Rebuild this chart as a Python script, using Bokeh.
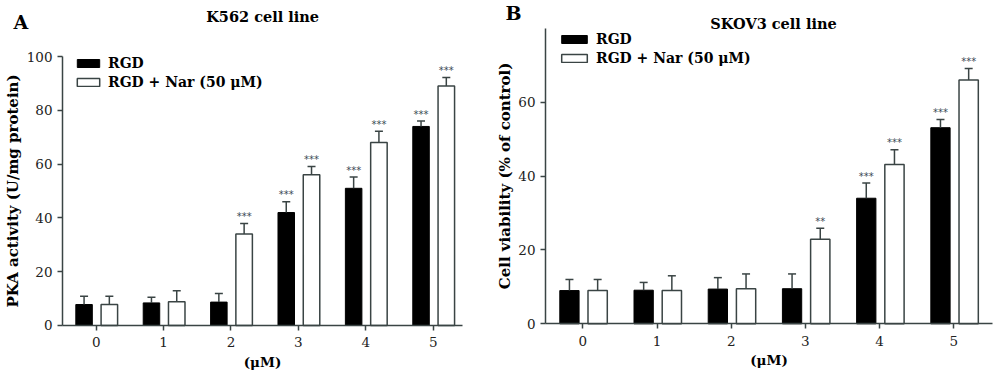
from bokeh.plotting import figure
from bokeh.layouts import row
from bokeh.models import (ColumnDataSource, Range1d, FixedTicker, Whisker, TeeHead,
                          Label, Legend, LegendItem)
from bokeh.core.properties import value
from bokeh.embed import file_html
from bokeh.resources import INLINE

# ---------------- data ----------------
categories = ["0", "1", "2", "3", "4", "5"]

a_rgd = [7.8, 8.4, 8.7, 42.0, 51.0, 74.0]
a_rgd_sd = [3.1, 2.1, 3.2, 4.0, 4.2, 2.0]
a_nar = [7.8, 8.8, 34.0, 56.0, 68.0, 89.0]
a_nar_sd = [3.1, 4.1, 3.9, 3.1, 4.2, 3.2]
a_rgd_sig = ["", "", "", "***", "***", "***"]
a_nar_sig = ["", "", "***", "***", "***", "***"]

b_rgd = [9.0, 9.1, 9.4, 9.5, 34.0, 53.1]
b_rgd_sd = [3.0, 2.1, 3.1, 4.0, 4.1, 2.2]
b_nar = [9.0, 9.0, 9.5, 22.9, 43.1, 66.0]
b_nar_sd = [3.0, 4.0, 4.0, 3.0, 4.0, 3.1]
b_rgd_sig = ["", "", "", "", "***", "***"]
b_nar_sig = ["", "", "", "**", "***", "***"]

series_labels = ["RGD", "RGD + Nar (50 \u03bcM)"]
titles = ["K562 cell line", "SKOV3 cell line"]
panel_letters = ["A", "B"]
y_labels = ["PKA activity (U/mg protein)", "Cell viability (% of control)"]
x_label = "(\u03bcM)"

AX = "#3a4444"
STAR = "#3b4a55"
SERIF = "DejaVu Serif"


def panel(width, height, xr, yr, xbounds, ybounds, yticks,
          v1, s1, g1, v2, s2, g2, bw, off1, off2, legend_loc, glyph_w, ylab_standoff,
          title, title_xy, letter, letter_xy, ylabel):
    p = figure(width=width, height=height, output_backend="svg", toolbar_location=None,
               x_range=Range1d(*xr), y_range=Range1d(*yr),
               min_border_left=0, min_border_right=0,
               min_border_top=0, min_border_bottom=0)
    p.outline_line_color = None
    p.grid.visible = False
    p.background_fill_color = "white"
    p.border_fill_color = "white"

    xs = list(range(len(categories)))
    src1 = ColumnDataSource(dict(x=[x + off1 for x in xs], top=v1,
                                 up=[a + b for a, b in zip(v1, s1)], sig=g1))
    src2 = ColumnDataSource(dict(x=[x + off2 for x in xs], top=v2,
                                 up=[a + b for a, b in zip(v2, s2)], sig=g2))

    for src in (src1, src2):
        w = Whisker(source=src, base="x", upper="up", lower="top", dimension="height",
                    line_color=AX, line_width=1.5,
                    upper_head=TeeHead(size=8, line_color=AX, line_width=1.5),
                    lower_head=None, level="annotation")
        p.add_layout(w)

    r1 = p.vbar(x="x", top="top", width=bw, bottom=0, source=src1,
                fill_color="black", line_color="black", line_width=1)
    r2 = p.vbar(x="x", top="top", width=bw, bottom=0, source=src2,
                fill_color="white", line_color=AX, line_width=1.5)

    for src in (src1, src2):
        p.text(x="x", y="up", text="sig", source=src, text_align="center",
               text_baseline="middle", y_offset=-7, text_color=STAR,
               text_font=value("DejaVu Sans"), text_font_size="10px")

    leg = Legend(items=[LegendItem(label=series_labels[0], renderers=[r1]),
                        LegendItem(label=series_labels[1], renderers=[r2])],
                 location=legend_loc, orientation="vertical")
    leg.background_fill_alpha = 0
    leg.border_line_color = None
    leg.padding = 0
    leg.margin = 0
    leg.spacing = 1
    leg.glyph_width = glyph_w
    leg.glyph_height = 10
    leg.label_height = 18
    leg.label_standoff = 6
    leg.label_text_font = SERIF
    leg.label_text_font_style = "bold"
    leg.label_text_font_size = "14px"
    leg.label_text_color = "black"
    leg.label_text_baseline = "middle"
    p.add_layout(leg, "center")

    p.add_layout(Label(x=title_xy[0], y=title_xy[1], text=title, text_align="center",
                       text_baseline="middle", text_font=SERIF, text_font_style="bold",
                       text_font_size="14.5px", text_color="black"))
    p.add_layout(Label(x=letter_xy[0], y=letter_xy[1], text=letter, text_align="left",
                       text_baseline="middle", text_font=SERIF, text_font_style="bold",
                       text_font_size="19px", text_color="black"))

    for ax in (p.xaxis, p.yaxis):
        ax.axis_line_color = AX
        ax.axis_line_width = 1.5
        ax.major_tick_line_color = AX
        ax.major_tick_line_width = 1.5
        ax.major_tick_out = 5
        ax.major_tick_in = 0
        ax.minor_tick_line_color = None
        ax.major_label_text_font = SERIF
        ax.major_label_text_font_size = "13.5px"
        ax.major_label_text_color = "#222222"
        ax.axis_label_text_font = SERIF
        ax.axis_label_text_font_style = "bold"
        ax.axis_label_text_color = "black"

    p.xaxis.ticker = FixedTicker(ticks=xs)
    p.xaxis.major_label_overrides = {i: c for i, c in zip(xs, categories)}
    p.xaxis.axis_label = x_label
    p.xaxis.axis_label_text_font_size = "13.5px"
    p.xaxis.major_label_standoff = 7
    p.xaxis.axis_label_standoff = 3
    p.xaxis.bounds = xbounds
    p.xaxis.fixed_location = 0

    p.yaxis.ticker = FixedTicker(ticks=yticks)
    p.yaxis.bounds = ybounds
    p.yaxis.axis_label = ylabel
    p.yaxis.axis_label_text_font_size = "15px"
    p.yaxis.major_label_standoff = 5
    p.yaxis.axis_label_standoff = ylab_standoff
    p.yaxis.fixed_location = xbounds[0]
    return p


pa = panel(494, 376, (-1.42, 5.91), (-18.96, 120.82), (-0.5, 5.435), (0, 100),
           [0, 20, 40, 60, 80, 100],
           a_rgd, a_rgd_sd, a_rgd_sig, a_nar, a_nar_sd, a_nar_sig,
           0.245, -0.18, 0.195, (74, 285), 28, 2,
           titles[0], (2.47, 114.9), panel_letters[0], (-1.227, 113.0), y_labels[0])

pb = panel(506, 376, (-1.19, 5.629), (-14.27, 87.54), (-0.503, 5.52), (0, 80),
           [0, 20, 40, 60],
           b_rgd, b_rgd_sd, b_rgd_sig, b_nar, b_nar_sd, b_nar_sig,
           0.26, -0.18, 0.2, (64, 309), 32, 1,
           titles[1], (2.57, 81.4), panel_letters[1], (-1.042, 84.2), y_labels[1])

layout = row(pa, pb)
open("out.html", "w").write(file_html(layout, INLINE))
